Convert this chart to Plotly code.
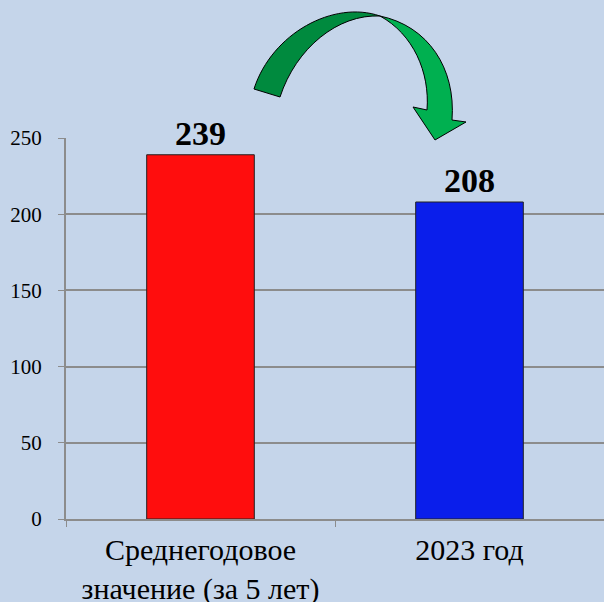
import plotly.graph_objects as go

categories = ["Среднегодовое<br>значение (за 5 лет)", "2023 год"]
values = [239, 208]
bar_colors = ["#FF0D0D", "#0A1EEB"]
y_ticks = [0, 50, 100, 150, 200, 250]

W, H = 604, 602
ML, MR, MT, MB = 66, 0, 138, 83
PW, PH = W - ML - MR, H - MT - MB
FONT = "Liberation Serif"

def px(x, y):
    return (x - ML) / PW, (H - MB - y) / PH

def path(cmds):
    out = []
    for c in cmds:
        if isinstance(c, str):
            out.append(c)
        else:
            xx, yy = px(*c)
            out.append(f"{xx:.4f},{yy:.4f}")
    return " ".join(out)

fig = go.Figure()
fig.add_trace(go.Bar(
    x=categories, y=values,
    marker=dict(color=bar_colors, line=dict(color="#222222", width=1)),
    text=[str(v) for v in values], textposition="outside",
    textfont=dict(family=FONT, size=34, color="black"),
    texttemplate="<b>%{text}</b>", cliponaxis=False,
))

left = path(["M", (254, 89), "C", (272, 33), (334, 0), (380, 16),
             "C", (338, 14), (296, 48), (280, 97), "Z"])
right = path(["M", (380, 16), "C", (428, 26), (456, 68), (452, 120),
              "L", (466, 122), "L", (435, 140), "L", (413, 107), "L", (427, 110),
              "C", (430, 72), (413, 34), (380, 16), "Z"])
fig.add_shape(type="path", xref="paper", yref="paper", path=left,
              fillcolor="#008A3E", line=dict(color="black", width=1))
fig.add_shape(type="path", xref="paper", yref="paper", path=right,
              fillcolor="#00B050", line=dict(color="black", width=1))

fig.update_layout(
    width=W, height=H,
    margin=dict(l=ML, r=MR, t=MT, b=MB),
    paper_bgcolor="#C5D5EA", plot_bgcolor="#C5D5EA",
    bargap=0.6, showlegend=False,
    font=dict(family=FONT, color="black"),
    xaxis=dict(showline=True, linecolor="#8C8C8C", linewidth=2,
               ticks="outside", tickson="boundaries", ticklen=6, tickcolor="#8C8C8C",
               tickfont=dict(family=FONT, size=30, color="black"), showgrid=False,
               ticklabelstandoff=3, automargin=False),
    yaxis=dict(range=[0, 250], tickvals=y_ticks, showline=True, linecolor="#8C8C8C",
               linewidth=2, ticks="outside", ticklen=6, tickcolor="#8C8C8C",
               gridcolor="#8C8C8C", gridwidth=1.5,
               tickfont=dict(family=FONT, size=21, color="black"),
               ticklabelstandoff=12, zeroline=False, automargin=False),
)
fig.write_html("out.html", config={"displayModeBar": False},
               post_script="document.body.style.margin='0';document.body.style.background='#C5D5EA';")
